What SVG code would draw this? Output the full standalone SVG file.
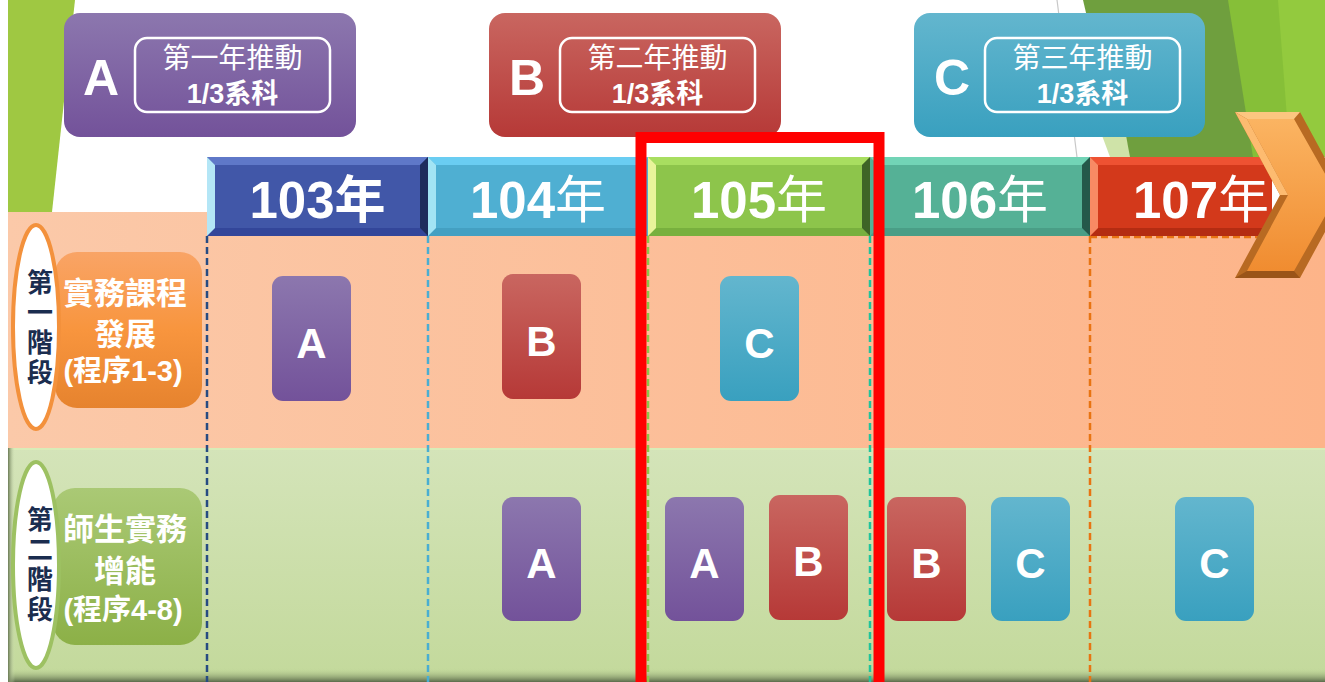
<svg xmlns="http://www.w3.org/2000/svg" width="1325" height="682" viewBox="0 0 1325 682">
<defs>
<linearGradient id="gA" x1="0" y1="0" x2="0" y2="1"><stop offset="0" stop-color="#8c77ae"/><stop offset="1" stop-color="#73529a"/></linearGradient>
<linearGradient id="gB" x1="0" y1="0" x2="0" y2="1"><stop offset="0" stop-color="#c96660"/><stop offset="1" stop-color="#b63937"/></linearGradient>
<linearGradient id="gC" x1="0" y1="0" x2="0" y2="1"><stop offset="0" stop-color="#63b6ce"/><stop offset="1" stop-color="#39a0bf"/></linearGradient>
<linearGradient id="gOr" x1="0" y1="0" x2="0" y2="1"><stop offset="0" stop-color="#f9a466"/><stop offset="0.5" stop-color="#f8953e"/><stop offset="1" stop-color="#e6832e"/></linearGradient>
<linearGradient id="gGr" x1="0" y1="0" x2="0" y2="1"><stop offset="0" stop-color="#aac975"/><stop offset="1" stop-color="#8cb047"/></linearGradient>
<linearGradient id="gRow1" x1="0" y1="0" x2="1" y2="0"><stop offset="0" stop-color="#fbc9a9"/><stop offset="1" stop-color="#fdb489"/></linearGradient>
<linearGradient id="gRow2" x1="0" y1="0" x2="0" y2="1"><stop offset="0" stop-color="#d4e4b9"/><stop offset="1" stop-color="#c3d99b"/></linearGradient>
<linearGradient id="gShB" x1="0" y1="0" x2="0" y2="1"><stop offset="0" stop-color="#c3d99b" stop-opacity="0"/><stop offset="1" stop-color="#5a6a4a"/></linearGradient>
<linearGradient id="gShL" x1="0" y1="0" x2="1" y2="0"><stop offset="0" stop-color="#6a7a55"/><stop offset="1" stop-color="#d4e4b9" stop-opacity="0"/></linearGradient>
<linearGradient id="gArr" x1="0" y1="0" x2="0" y2="1"><stop offset="0" stop-color="#fbb462"/><stop offset="1" stop-color="#f08c30"/></linearGradient>
<style>
.lat{font-family:"Liberation Sans","Noto Sans CJK TC",sans-serif;fill:#fff;font-weight:bold;text-anchor:middle}
.cjk{font-family:"Noto Sans CJK TC",sans-serif;fill:#fff;text-anchor:middle}
.vt{font-family:"Noto Sans CJK TC",sans-serif;fill:#1b2d4f;font-weight:bold;font-size:26px;text-anchor:middle;writing-mode:vertical-rl;letter-spacing:4px}
.lbl{font-family:"Liberation Sans","Noto Sans CJK TC",sans-serif;fill:#fff;font-weight:bold;font-size:31px;text-anchor:middle}
.lbs{font-family:"Liberation Sans","Noto Sans CJK TC",sans-serif;fill:#fff;font-weight:bold;font-size:29px;text-anchor:middle}
.yr{font-family:"Liberation Sans","Noto Sans CJK TC",sans-serif;fill:#fff;font-weight:bold;font-size:51px;text-anchor:middle}
.inner{fill:none;stroke:#fff;stroke-width:2.5}
.dash{stroke-width:2.5;stroke-dasharray:7 4;fill:none}
</style>
</defs>

<!-- background -->
<rect width="1325" height="682" fill="#fff"/>
<polygon points="8,0 75,0 52,212 8,212" fill="#9fc842"/>
<polygon points="1083,0 1230,0 1255,157 1120,157" fill="#6f9f3e"/>
<polygon points="1100,130 1125,130 1130,157 1110,157" fill="#cfe3a8"/>
<polygon points="1228,0 1325,0 1325,157 1253,157" fill="#86bf38"/>
<polygon points="1278,0 1325,0 1325,157 1290,157" fill="#93ca3e"/>
<line x1="1057" y1="0" x2="1077" y2="157" stroke="#c8c8c8" stroke-width="1.2"/>

<!-- rows -->
<rect x="8" y="212" width="1317" height="236" fill="url(#gRow1)"/>
<rect x="8" y="448" width="1317" height="234" fill="url(#gRow2)"/>
<rect x="8" y="448" width="1317" height="2" fill="#d8ecb8"/>
<rect x="8" y="668" width="1317" height="14" fill="url(#gShB)"/>
<rect x="8" y="448" width="7" height="234" fill="url(#gShL)"/>

<!-- connectors: dashed year dividers -->
<g id="connectors">
<line class="dash" x1="207" y1="236" x2="207" y2="682" stroke="#264b82"/>
<line class="dash" x1="428" y1="236" x2="428" y2="682" stroke="#49aed2"/>
<line class="dash" x1="648" y1="236" x2="648" y2="682" stroke="#8cc44a"/>
<line class="dash" x1="870" y1="236" x2="870" y2="682" stroke="#1fc49c"/>
<line class="dash" x1="1090" y1="236" x2="1090" y2="682" stroke="#e87412"/>
<line class="dash" x1="1090" y1="237" x2="1272" y2="237" stroke="#e87412"/>
</g>

<!-- year bar -->
<g id="year103">
<rect x="207" y="157" width="221" height="79" fill="#4157a8"/>
<polygon points="207,157 428,157 420,165 215,165" fill="#5f78c8"/>
<polygon points="207,236 428,236 420,228 215,228" fill="#33469a"/>
<polygon points="207,157 215,165 215,228 207,236" fill="#b4e6f6"/>
<polygon points="428,157 420,165 420,228 428,236" fill="#1e2c5c"/>
<text class="yr" x="317.5" y="218">103年</text>
</g>
<g id="year104">
<rect x="428" y="157" width="220" height="79" fill="#4fafd2"/>
<polygon points="428,157 648,157 640,165 436,165" fill="#6acdf2"/>
<polygon points="428,236 648,236 640,228 436,228" fill="#44a0c2"/>
<polygon points="428,157 436,165 436,228 428,236" fill="#a2e4f4"/>
<text class="yr" x="538" y="218">104<tspan font-weight="normal">年</tspan></text>
</g>
<g id="year105">
<rect x="648" y="157" width="222" height="79" fill="#8dc54b"/>
<polygon points="648,157 870,157 862,165 656,165" fill="#a8de60"/>
<polygon points="648,236 870,236 862,228 656,228" fill="#78b03e"/>
<polygon points="648,157 656,165 656,228 648,236" fill="#e8f49a"/>
<polygon points="870,157 862,165 862,228 870,236" fill="#3e6426"/>
<text class="yr" x="759" y="218">105<tspan font-weight="normal">年</tspan></text>
</g>
<g id="year106">
<rect x="870" y="157" width="220" height="79" fill="#55b196"/>
<polygon points="870,157 1090,157 1082,165 878,165" fill="#72d4b6"/>
<polygon points="870,236 1090,236 1082,228 878,228" fill="#4a9e86"/>
<polygon points="1090,157 1082,165 1082,228 1090,236" fill="#24584a"/>
<text class="yr" x="980" y="218">106<tspan font-weight="normal">年</tspan></text>
</g>
<g id="year107">
<rect x="1090" y="157" width="182" height="79" fill="#d3391b"/>
<polygon points="1090,157 1272,157 1272,165 1098,165" fill="#ee5232"/>
<polygon points="1090,236 1272,236 1272,228 1098,228" fill="#b42c12"/>
<polygon points="1090,157 1098,165 1098,228 1090,236" fill="#f88a64"/>
</g>
<g id="arrow">
<polygon points="1235,112 1300,112 1345,195 1300,278 1235,278 1280,195" fill="#b86a22"/>
<polygon points="1247,119 1294,119 1337,195 1294,271 1247,271 1288,195" fill="url(#gArr)"/>
<polygon points="1235,112 1300,112 1294,119 1247,119" fill="#fcc680"/>
<polygon points="1235,112 1247,119 1288,195 1280,195" fill="#fdbb70"/>
<polygon points="1235,278 1300,278 1294,271 1247,271" fill="#9a5418"/>
</g>
<text class="yr" x="1201" y="218">107<tspan font-weight="normal">年</tspan></text>

<!-- legend -->
<g id="legendA">
<rect x="64" y="13" width="292" height="124" rx="16" fill="url(#gA)"/>
<text class="lat" x="101" y="95" font-size="50">A</text>
<rect class="inner" x="135" y="38" width="195" height="74" rx="12"/>
<text class="cjk" x="232.5" y="68" font-size="28">第一年推動</text>
<text class="lat" x="232.5" y="103" font-size="27">1/3系科</text>
</g>
<g id="legendB">
<rect x="489" y="13" width="292" height="124" rx="16" fill="url(#gB)"/>
<text class="lat" x="527" y="95" font-size="50">B</text>
<rect class="inner" x="560" y="38" width="195" height="74" rx="12"/>
<text class="cjk" x="657.5" y="68" font-size="28">第二年推動</text>
<text class="lat" x="657.5" y="103" font-size="27">1/3系科</text>
</g>
<g id="legendC">
<rect x="914" y="13" width="291" height="124" rx="16" fill="url(#gC)"/>
<text class="lat" x="952" y="95" font-size="50">C</text>
<rect class="inner" x="985" y="38" width="195" height="74" rx="12"/>
<text class="cjk" x="1082.5" y="68" font-size="28">第三年推動</text>
<text class="lat" x="1082.5" y="103" font-size="27">1/3系科</text>
</g>

<!-- row labels -->
<g id="stage1">
<rect x="55" y="252" width="147" height="156" rx="22" fill="url(#gOr)"/>
<ellipse cx="36" cy="327" rx="23" ry="102" fill="#fff" stroke="#f3913c" stroke-width="4"/>
<text class="vt" x="40" y="329">第一階段</text>
<text class="lbl" x="125" y="304">實務課程</text>
<text class="lbl" x="125" y="345">發展</text>
<text class="lbs" x="123" y="381">(程序1-3)</text>
</g>
<g id="stage2">
<rect x="53" y="488" width="149" height="157" rx="22" fill="url(#gGr)"/>
<ellipse cx="36" cy="565" rx="23" ry="103" fill="#fff" stroke="#9dc162" stroke-width="4"/>
<text class="vt" x="40" y="566">第二階段</text>
<text class="lbl" x="125" y="540">師生實務</text>
<text class="lbl" x="125" y="582">增能</text>
<text class="lbs" x="123" y="620">(程序4-8)</text>
</g>

<!-- row 1 boxes -->
<g id="r1A"><rect x="272" y="276" width="79" height="125" rx="11" fill="url(#gA)"/><text class="lat" x="311.5" y="358" font-size="42">A</text></g>
<g id="r1B"><rect x="502" y="274" width="79" height="125" rx="11" fill="url(#gB)"/><text class="lat" x="541.5" y="356" font-size="42">B</text></g>
<g id="r1C"><rect x="720" y="276" width="79" height="125" rx="11" fill="url(#gC)"/><text class="lat" x="759.5" y="358" font-size="42">C</text></g>

<!-- row 2 boxes -->
<g id="r2A1"><rect x="502" y="497" width="79" height="124" rx="11" fill="url(#gA)"/><text class="lat" x="541.5" y="578" font-size="42">A</text></g>
<g id="r2A2"><rect x="665" y="497" width="79" height="124" rx="11" fill="url(#gA)"/><text class="lat" x="704.5" y="578" font-size="42">A</text></g>
<g id="r2B1"><rect x="769" y="495" width="79" height="125" rx="11" fill="url(#gB)"/><text class="lat" x="808.5" y="576" font-size="42">B</text></g>
<g id="r2B2"><rect x="887" y="497" width="79" height="124" rx="11" fill="url(#gB)"/><text class="lat" x="926.5" y="578" font-size="42">B</text></g>
<g id="r2C1"><rect x="991" y="497" width="79" height="124" rx="11" fill="url(#gC)"/><text class="lat" x="1030.5" y="578" font-size="42">C</text></g>
<g id="r2C2"><rect x="1175" y="497" width="79" height="124" rx="11" fill="url(#gC)"/><text class="lat" x="1214.5" y="578" font-size="42">C</text></g>

<!-- highlight -->
<g id="highlight">
<rect x="641" y="137.5" width="238" height="560" fill="none" stroke="#ff0000" stroke-width="11"/>
</g>
</svg>
